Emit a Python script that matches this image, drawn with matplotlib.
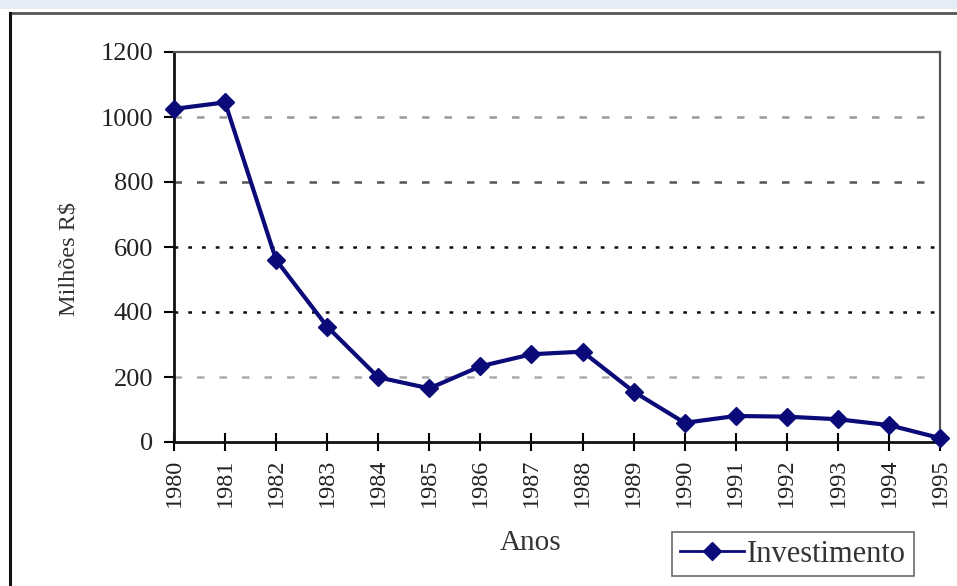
import numpy as np
import matplotlib
matplotlib.use("Agg")
import matplotlib.pyplot as plt
from matplotlib.lines import Line2D
from matplotlib.patches import Rectangle

plt.rcParams["font.family"] = ["Liberation Serif", "DejaVu Serif"]

# Data
anos = [1980, 1981, 1982, 1983, 1984, 1985, 1986, 1987,
        1988, 1989, 1990, 1991, 1992, 1993, 1994, 1995]
investimento = [1025, 1045, 560, 355, 199, 165, 233, 270,
                278, 155, 59, 80, 78, 70, 52, 12]
y_ticks = [0, 200, 400, 600, 800, 1000, 1200]

navy = "#0a0a78"

fig = plt.figure(figsize=(9.57, 5.86), dpi=100)
fig.patch.set_facecolor("white")

# outer frame: light strip on top, dark line top and left
fig.add_artist(Rectangle((0, 1 - 9 / 586), 1, 9 / 586, transform=fig.transFigure,
                         facecolor="#e4edf5", edgecolor="none"))
fig.add_artist(Line2D([10 / 957, 1], [1 - 13 / 586, 1 - 13 / 586],
                      transform=fig.transFigure, color="#555555", lw=2))
fig.add_artist(Line2D([10 / 957, 10 / 957], [0, 1 - 13 / 586],
                      transform=fig.transFigure, color="#111111", lw=2.2))

ax = fig.add_axes([174 / 957, 1 - 442 / 586, 766 / 957, 390 / 586])

ax.plot(anos, investimento, color=navy, lw=3, marker="D",
        markersize=9.5, markerfacecolor=navy, markeredgecolor=navy, zorder=5,
        clip_on=False, label="Investimento")

ax.set_xlim(1980, 1995)
ax.set_ylim(0, 1200)
ax.set_xticks(anos)
ax.set_xticklabels([str(a) for a in anos], rotation=90)
ax.set_yticks(y_ticks)
ax.set_yticklabels([str(v) for v in y_ticks])

# gridlines with varying darkness
grid_style = {200: ("#aaaaaa", (0, (3, 6))), 400: ("#111111", (0, (1.5, 4))),
              600: ("#111111", (0, (1.5, 4))), 800: ("#555555", (0, (3, 6))),
              1000: ("#999999", (0, (3, 6)))}
for v, (c, ls) in grid_style.items():
    ax.axhline(v, color=c, lw=1.8, linestyle=ls, zorder=1)

for side in ["left", "bottom"]:
    ax.spines[side].set_linewidth(2)
    ax.spines[side].set_color("#111111")
for side in ["top", "right"]:
    ax.spines[side].set_linewidth(1.6)
    ax.spines[side].set_color("#555555")

ax.tick_params(axis="x", direction="inout", length=13, width=1.5,
               labelsize=17.5, pad=5.5)
ax.tick_params(axis="y", direction="out", length=7, width=1.5,
               labelsize=19, pad=8)
for lab in ax.get_xticklabels() + ax.get_yticklabels():
    lab.set_color("#222222")

ax.set_ylabel("Milhões R$", fontsize=17.5, color="#333333")
ax.yaxis.set_label_coords(-0.123, 0.47)
ax.set_xlabel("Anos", fontsize=21, color="#333333")
ax.xaxis.set_label_coords(0.465, -0.225)

leg = fig.legend(handles=[Line2D([], [], color=navy, lw=2, marker="D",
                                 markersize=9, markerfacecolor=navy)],
                 labels=["Investimento"], loc="upper left",
                 bbox_to_anchor=(672 / 957, 1 - 532 / 586),
                 fontsize=22, frameon=True, fancybox=False,
                 handlelength=2.1, handletextpad=0.1, borderpad=0.25,
                 borderaxespad=0)
leg.get_frame().set_edgecolor("#444444")
leg.get_frame().set_linewidth(1.2)
for t in leg.get_texts():
    t.set_color("#333333")

fig.savefig("out.png", dpi=100)
